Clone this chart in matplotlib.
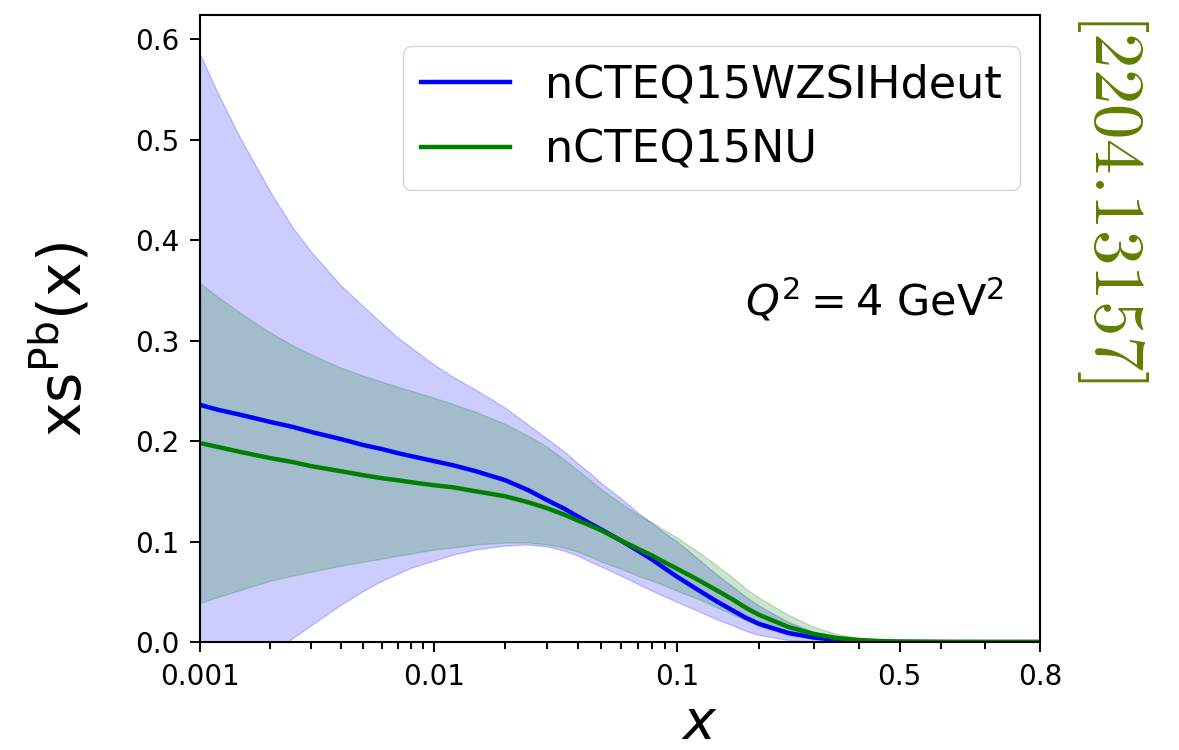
import numpy as np
import matplotlib
matplotlib.use("Agg")
import matplotlib.pyplot as plt
from matplotlib.ticker import NullFormatter

# x grid and xs^Pb(x) at Q^2 = 4 GeV^2
x = [0.001, 0.0012, 0.0015, 0.002, 0.0025, 0.003, 0.004, 0.005, 0.006, 0.007,
     0.008, 0.01, 0.012, 0.015, 0.02, 0.025, 0.03, 0.035, 0.04, 0.045, 0.05,
     0.06, 0.07, 0.08, 0.09, 0.1, 0.12, 0.14, 0.16, 0.18, 0.2, 0.25, 0.3,
     0.35, 0.4, 0.45, 0.5, 0.6, 0.7, 0.8]

wzsih_central = [0.236, 0.231, 0.226, 0.219, 0.214, 0.209, 0.202, 0.196, 0.192,
                 0.188, 0.185, 0.180, 0.176, 0.170, 0.161, 0.151, 0.141, 0.133,
                 0.125, 0.118, 0.112, 0.101, 0.091, 0.082, 0.073, 0.065, 0.052,
                 0.041, 0.032, 0.024, 0.018, 0.009, 0.0045, 0.002, 0.001,
                 0.0004, 0.0002, 0.0, 0.0, 0.0]
wzsih_upper = [0.585, 0.545, 0.500, 0.448, 0.412, 0.388, 0.355, 0.334, 0.317,
               0.303, 0.293, 0.276, 0.264, 0.251, 0.233, 0.216, 0.202, 0.190,
               0.178, 0.168, 0.158, 0.143, 0.129, 0.118, 0.108, 0.100, 0.083,
               0.068, 0.056, 0.045, 0.036, 0.020, 0.010, 0.005, 0.002, 0.001,
               0.0004, 0.0, 0.0, 0.0]
wzsih_lower = [-0.075, -0.058, -0.037, -0.012, 0.004, 0.017, 0.037, 0.051,
               0.061, 0.068, 0.074, 0.081, 0.087, 0.092, 0.096, 0.097, 0.095,
               0.091, 0.086, 0.080, 0.075, 0.066, 0.058, 0.051, 0.045, 0.040,
               0.031, 0.023, 0.017, 0.011, 0.007, 0.002, 0.0005, 0.0, 0.0,
               0.0, 0.0, 0.0, 0.0, 0.0]

nu_central = [0.198, 0.194, 0.189, 0.183, 0.179, 0.175, 0.170, 0.166, 0.163,
              0.161, 0.159, 0.156, 0.154, 0.150, 0.145, 0.139, 0.133, 0.127,
              0.121, 0.116, 0.111, 0.101, 0.093, 0.086, 0.079, 0.073, 0.062,
              0.052, 0.043, 0.034, 0.027, 0.015, 0.008, 0.004, 0.002, 0.001,
              0.0004, 0.0001, 0.0, 0.0]
nu_upper = [0.357, 0.343, 0.327, 0.308, 0.295, 0.286, 0.273, 0.265, 0.259,
            0.254, 0.250, 0.243, 0.237, 0.229, 0.217, 0.205, 0.194, 0.182,
            0.171, 0.161, 0.152, 0.138, 0.127, 0.119, 0.111, 0.104, 0.090,
            0.077, 0.065, 0.053, 0.044, 0.027, 0.015, 0.008, 0.004, 0.002,
            0.001, 0.0002, 0.0, 0.0]
nu_lower = [0.039, 0.045, 0.052, 0.061, 0.066, 0.070, 0.076, 0.080, 0.083,
            0.086, 0.088, 0.092, 0.094, 0.097, 0.099, 0.099, 0.097, 0.094,
            0.090, 0.085, 0.080, 0.073, 0.066, 0.061, 0.056, 0.051, 0.043,
            0.035, 0.028, 0.022, 0.016, 0.007, 0.003, 0.0012, 0.0005, 0.0002,
            0.0, 0.0, 0.0, 0.0]

xticks = [0.001, 0.01, 0.1, 0.5, 0.8]
xticklabels = ["0.001", "0.01", "0.1", "0.5", "0.8"]
xminor = [0.002, 0.003, 0.004, 0.005, 0.006, 0.007, 0.008, 0.009,
          0.02, 0.03, 0.04, 0.05, 0.06, 0.07, 0.08, 0.09,
          0.2, 0.3, 0.4, 0.6, 0.7]
yticks = [0.0, 0.1, 0.2, 0.3, 0.4, 0.5, 0.6]

fig = plt.figure(figsize=(11.79, 7.5), dpi=100)
ax = fig.add_axes([0.1696, 0.144, 0.7125, 0.836])

ax.fill_between(x, wzsih_lower, wzsih_upper, color="blue", alpha=0.2)
ax.fill_between(x, nu_lower, nu_upper, color="green", alpha=0.2)
ax.plot(x, wzsih_central, color="blue", lw=3.2, label="nCTEQ15WZSIHdeut")
ax.plot(x, nu_central, color="green", lw=3.2, label="nCTEQ15NU")

ax.set_xscale("logit")
ax.set_xlim(0.001, 0.8)
ax.set_ylim(0, 0.624)
ax.set_xticks(xticks)
ax.set_xticklabels(xticklabels)
ax.set_xticks(xminor, minor=True)
ax.xaxis.set_minor_formatter(NullFormatter())
ax.set_yticks(yticks)
ax.set_yticklabels([f"{v:.1f}" for v in yticks])

ax.tick_params(which="major", length=7, width=1.4, labelsize=20, pad=8)
ax.tick_params(which="minor", length=5, width=1.4)
for sp in ax.spines.values():
    sp.set_linewidth(1.5)

ax.set_xlabel("$x$", fontsize=40, va="center")
ax.xaxis.set_label_coords(0.594, -0.13)
ax.set_ylabel("xs$^{\\mathrm{Pb}}$(x)", fontsize=42, va="center")
ax.yaxis.set_label_coords(-0.165, 0.482)

ax.text(0.958, 0.545, "$Q^2 = 4\\ \\mathrm{GeV}^2$", transform=ax.transAxes,
        fontsize=31, ha="right", va="center")

ax.legend(loc="upper right", bbox_to_anchor=(0.976, 0.9506), borderaxespad=0,
          fontsize=32, framealpha=0.8)

fig.text(0.944, 0.737, "$\\mathrm{[2204.13157]}$", rotation=-90, ha="center",
         va="center", fontsize=51, color="#5f7f00", math_fontfamily="cm")

fig.savefig("out.png", dpi=100)
